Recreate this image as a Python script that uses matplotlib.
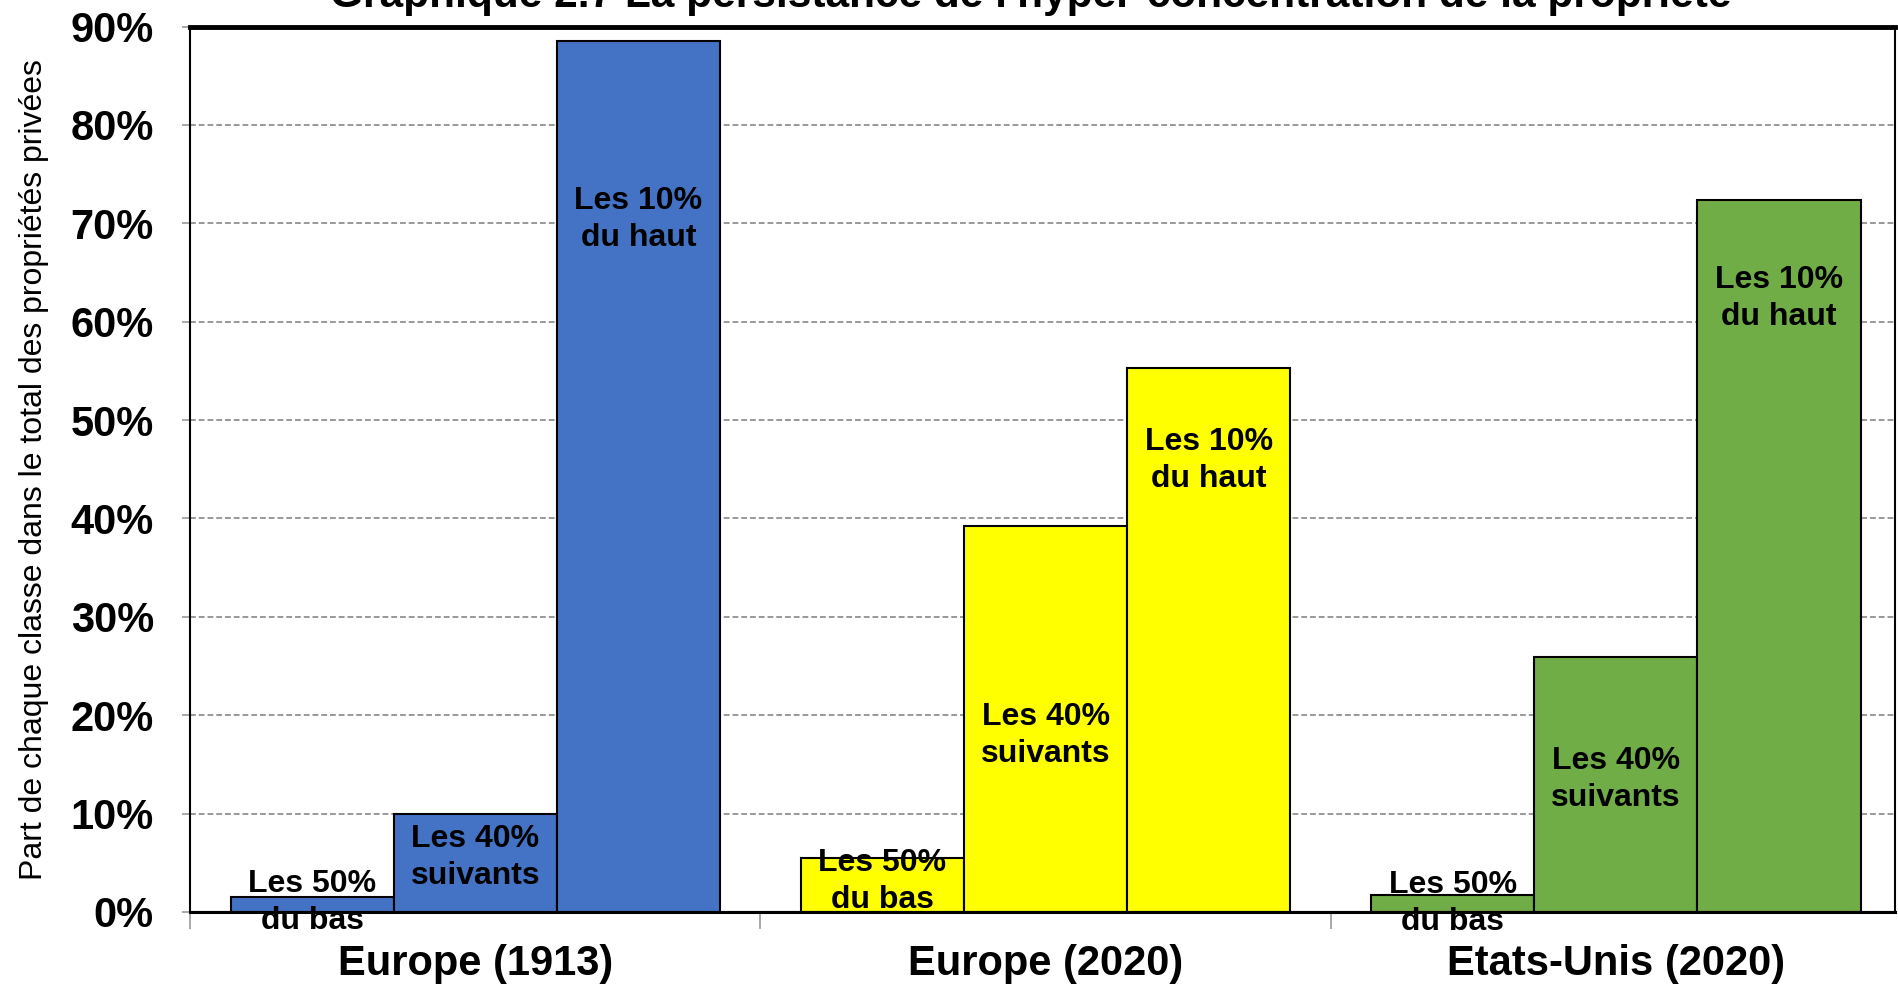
import matplotlib
matplotlib.use('Agg')
import matplotlib.pyplot as plt
import numpy as np

plt.rcParams['font.family'] = ['Liberation Sans', 'DejaVu Sans']

# Data
groups = ["Europe (1913)", "Europe (2020)", "Etats-Unis (2020)"]
classes = ["Les 50%\ndu bas", "Les 40%\nsuivants", "Les 10%\ndu haut"]
bottom50 = [1.5, 5.5, 1.7]
middle40 = [10.0, 39.2, 25.9]
top10 = [88.5, 55.3, 72.4]
yticks = [0, 10, 20, 30, 40, 50, 60, 70, 80, 90]
group_colors = ['#4472C4', '#FFFF00', '#70AD47']

title = "Graphique 2.7 La persistance de l'hyper-concentration de la propriété"
ylabel = "Part de chaque classe dans le total des propriétés privées"

fig = plt.figure(figsize=(18.99, 9.86), dpi=100)
ax = fig.add_axes([0.1001, 0.0751, 0.898, 0.898])

x = np.arange(len(groups))
w = 0.286
series = [bottom50, middle40, top10]
# where each label sits relative to bar top (in % points), per group
label_shift = [
    [-0.5, -2.4, -0.8],     # 50% bars: straddle the top
    [-4.5, -21.3, -12.4],   # 40% bars: middle-ish
    [-18.1, -9.4, -10.0],   # 10% bars: near top
]

for k, vals in enumerate(series):
    xs = x + (k - 1) * w
    for g in range(len(groups)):
        ax.bar(xs[g], vals[g], width=w, color=group_colors[g], edgecolor='black',
               linewidth=1.5, zorder=3)
        ax.text(xs[g], vals[g] + label_shift[k][g], classes[k], ha='center', va='center',
                fontsize=23, fontweight='bold', linespacing=1.3, zorder=5)

ax.axhline(0, color='black', lw=1.5, zorder=4)

ax.set_xlim(-0.5, 2.49)
ax.set_ylim(0, 90)
ax.set_yticks(yticks)
ax.set_yticklabels([f"{t}%" for t in yticks], fontsize=30, fontweight='bold')
ax.set_xticks(x)
ax.set_xticklabels(groups, fontsize=30, fontweight='bold')
ax.tick_params(axis='x', which='major', length=0, pad=23)
ax.set_xticks([-0.5, 0.5, 1.5], minor=True)
ax.tick_params(axis='x', which='minor', length=12, color='#999999', width=1.2)
ax.tick_params(axis='y', length=6, color='#999999', width=1.2, pad=20)

ax.yaxis.grid(True, color='#999999', linestyle=(0, (3, 1.5)), linewidth=1.4)
ax.set_axisbelow(True)

ax.spines['top'].set_linewidth(3.5)
ax.spines['bottom'].set_linewidth(2.2)
ax.spines['left'].set_linewidth(1.5)
ax.spines['right'].set_linewidth(1.5)
for s in ax.spines.values():
    s.set_color('black')

fig.text(0.018, 0.524, ylabel, rotation=90, ha='center', va='center', fontsize=23)
fig.text(0.543, 0.993, title, ha='center', va='baseline', fontsize=30.5, fontweight='bold')

plt.savefig('out.png', dpi=100, facecolor='white')
